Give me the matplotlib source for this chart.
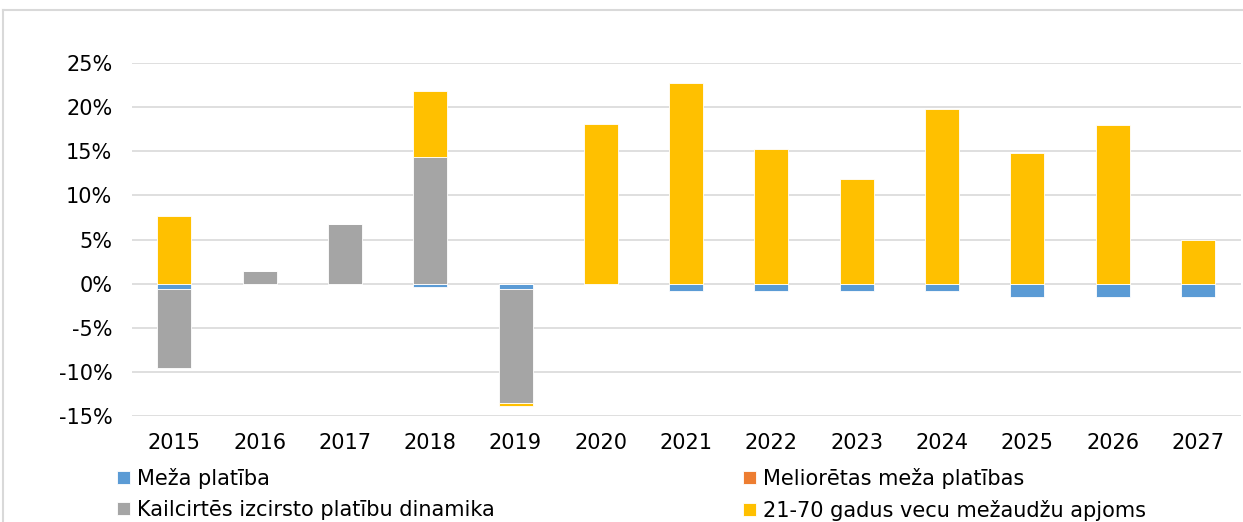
import numpy as np
import matplotlib.pyplot as plt
from matplotlib.lines import Line2D

years = ['2015', '2016', '2017', '2018', '2019', '2020', '2021',
         '2022', '2023', '2024', '2025', '2026', '2027']

meza_platiba = [-0.6, 0.0, 0.0, -0.35, -0.65, 0.0, -0.8, -0.8, -0.8, -0.8, -1.5, -1.5, -1.5]
melioretas = [0.0] * 13
kailcirtes = [-8.9, 1.4, 6.75, 14.4, -12.9, 0.0, 0.0, 0.0, 0.0, 0.0, 0.0, 0.0, 0.0]
mezaudzu_apjoms = [7.7, 0.0, 0.0, 7.5, -0.3, 18.1, 22.7, 15.3, 11.9, 19.8, 14.8, 18.0, 4.9]

series = [
    ('Meža platība', meza_platiba, '#5B9BD5'),
    ('Meliorētas meža platības', melioretas, '#ED7D31'),
    ('Kailcirtēs izcirsto platību dinamika', kailcirtes, '#A5A5A5'),
    ('21-70 gadus vecu mežaudžu apjoms', mezaudzu_apjoms, '#FFC000'),
]

plt.rcParams['font.family'] = ['DejaVu Sans']

fig = plt.figure(figsize=(12.43, 5.22), dpi=100, facecolor='w')
ax = fig.add_axes([0.106, 0.203, 0.892, 0.676])

x = np.arange(len(years))
pos = np.zeros(len(years))
neg = np.zeros(len(years))
handles = {}
for name, vals, color in series:
    vals = np.array(vals)
    bottom = np.where(vals >= 0, pos, neg)
    bars = ax.bar(x, vals, 0.4, bottom=bottom, color=color,
                  edgecolor='white', linewidth=0.6, zorder=3)
    handles[name] = bars
    pos = pos + np.where(vals > 0, vals, 0)
    neg = neg + np.where(vals < 0, vals, 0)

ax.set_xlim(-0.5, len(years) - 0.5)
ax.set_ylim(-15, 25)
ax.set_yticks(np.arange(-15, 26, 5))
ax.set_yticklabels(['%d%%' % v for v in np.arange(-15, 26, 5)])
ax.set_xticks(x)
ax.set_xticklabels(years)
ax.tick_params(axis='both', length=0, labelsize=15, colors='black')
ax.tick_params(axis='y', pad=14)
ax.tick_params(axis='x', pad=12)
ax.grid(axis='y', color='#D9D9D9', linewidth=1.2, zorder=0)
for s in ax.spines.values():
    s.set_visible(False)

order = ['Meža platība', 'Kailcirtēs izcirsto platību dinamika',
         'Meliorētas meža platības', '21-70 gadus vecu mežaudžu apjoms']
fig.legend([handles[n] for n in order], order, ncol=2, loc='upper left',
           bbox_to_anchor=(0.0875, 0.119), borderaxespad=0, frameon=False,
           fontsize=15, handlelength=0.63, handleheight=0.6,
           handletextpad=0.33, columnspacing=11.9, labelspacing=0.5)

# outer frame edges
fig.add_artist(Line2D([0.0025, 1], [0.981, 0.981], transform=fig.transFigure,
                      color='#D9D9D9', linewidth=1.5))
fig.add_artist(Line2D([0.0025, 0.0025], [0, 0.981], transform=fig.transFigure,
                      color='#D9D9D9', linewidth=1.5))

fig.savefig('out.png', dpi=100, facecolor='w')
